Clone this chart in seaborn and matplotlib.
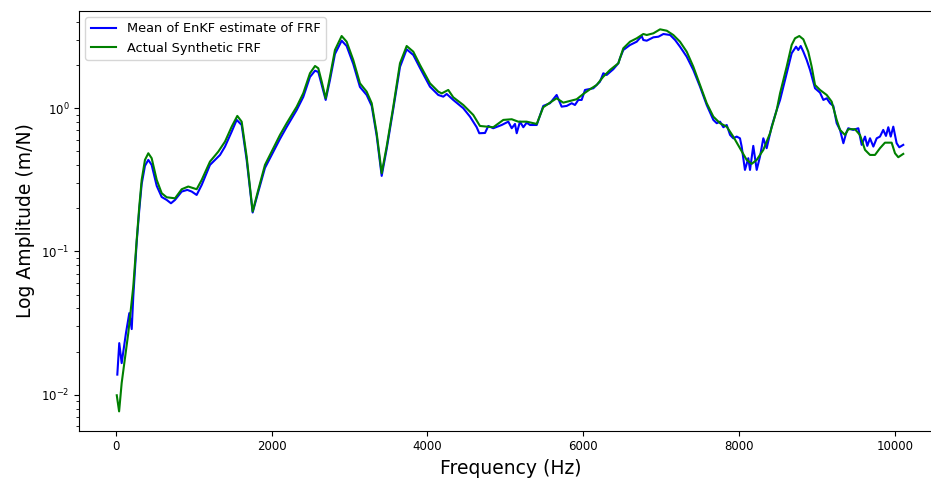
import matplotlib
matplotlib.use("Agg")
import matplotlib.pyplot as plt
import seaborn as sns
import numpy as np

# Mean of EnKF estimate of FRF
freq_est = [17, 42, 73, 128, 171, 202, 222, 266, 299, 330, 372, 415, 458, 523, 587, 651, 706, 758,
            844, 916, 972, 1036, 1101, 1207, 1336, 1400, 1486, 1550, 1614, 1678, 1755, 1827, 1913,
            2020, 2106, 2192, 2321, 2405, 2491, 2556, 2598, 2642, 2693, 2748, 2812, 2898, 2962, 3047,
            3133, 3219, 3284, 3348, 3412, 3476, 3561, 3647, 3733, 3818, 3904, 4032, 4139, 4203, 4247,
            4331, 4460, 4546, 4632, 4665, 4739, 4781, 4845, 4953, 5038, 5082, 5124, 5146, 5188, 5231,
            5274, 5317, 5403, 5487, 5573, 5659, 5723, 5788, 5852, 5894, 5937, 5980, 6023, 6130, 6215,
            6258, 6301, 6386, 6451, 6472, 6515, 6601, 6687, 6751, 6772, 6816, 6901, 6966, 7030, 7116,
            7180, 7243, 7329, 7414, 7500, 7586, 7671, 7715, 7757, 7800, 7843, 7886, 7927, 7971, 8013,
            8035, 8077, 8120, 8142, 8184, 8228, 8270, 8313, 8356, 8420, 8485, 8528, 8613, 8677, 8733,
            8762, 8793, 8827, 8870, 8913, 8977, 9041, 9084, 9127, 9170, 9212, 9255, 9298, 9341, 9376,
            9404, 9468, 9533, 9576, 9619, 9648, 9683, 9726, 9769, 9811, 9853, 9888, 9918, 9949, 9982,
            10025, 10059, 10110]
amp_est = [0.0138, 0.0229, 0.0166, 0.0269, 0.0371, 0.0287, 0.0484, 0.1167, 0.195, 0.296, 0.396,
           0.436, 0.402, 0.287, 0.240, 0.229, 0.217, 0.229, 0.262, 0.269, 0.262, 0.248, 0.2916,
           0.402, 0.472, 0.540, 0.687, 0.829, 0.764, 0.436, 0.187, 0.2606, 0.383, 0.496, 0.611,
           0.740, 0.973, 1.199, 1.653, 1.829, 1.792, 1.454, 1.143, 1.576, 2.393, 2.963, 2.721,
           2.038, 1.408, 1.238, 1.038, 0.641, 0.337, 0.520, 0.989, 1.942, 2.58, 2.355, 1.911,
           1.415, 1.238, 1.205, 1.258, 1.143, 1.0, 0.874, 0.737, 0.669, 0.672, 0.752, 0.725,
           0.764, 0.806, 0.725, 0.777, 0.669, 0.806, 0.737, 0.793, 0.764, 0.764, 1.038, 1.084,
           1.238, 1.026, 1.038, 1.084, 1.054, 1.143, 1.143, 1.342, 1.379, 1.533, 1.755, 1.708,
           1.872, 2.061, 2.234, 2.552, 2.765, 2.916, 3.195, 2.996, 2.963, 3.129, 3.16, 3.30,
           3.248, 2.996, 2.691, 2.292, 1.851, 1.415, 1.054, 0.829, 0.786, 0.806, 0.737, 0.764,
           0.651, 0.617, 0.634, 0.617, 0.540, 0.371, 0.448, 0.371, 0.546, 0.371, 0.459, 0.617,
           0.526, 0.744, 0.973, 1.143, 1.755, 2.42, 2.691, 2.552, 2.721, 2.483, 2.173, 1.851,
           1.379, 1.285, 1.143, 1.174, 1.084, 1.038, 0.786, 0.706, 0.57, 0.669, 0.725, 0.706,
           0.725, 0.555, 0.634, 0.546, 0.617, 0.540, 0.617, 0.634, 0.706, 0.641, 0.737, 0.634,
           0.744, 0.57, 0.534, 0.555]

# Actual Synthetic FRF
freq_act = [10, 40, 73, 158, 222, 266, 299, 330, 372, 415, 458, 523, 587, 651, 758, 844, 928, 1036,
            1101, 1207, 1314, 1400, 1486, 1558, 1614, 1678, 1755, 1827, 1913, 2020, 2106, 2192, 2321,
            2405, 2491, 2556, 2598, 2642, 2693, 2748, 2812, 2898, 2962, 3047, 3133, 3219, 3284, 3348,
            3412, 3476, 3561, 3647, 3733, 3818, 3904, 4032, 4139, 4183, 4267, 4331, 4460, 4588, 4674,
            4760, 4845, 4974, 5082, 5166, 5274, 5403, 5487, 5573, 5659, 5744, 5830, 5916, 6001, 6087,
            6173, 6258, 6344, 6451, 6515, 6601, 6687, 6772, 6816, 6901, 6987, 7073, 7157, 7243, 7329,
            7414, 7500, 7586, 7671, 7757, 7843, 7927, 8013, 8099, 8164, 8228, 8313, 8399, 8485, 8528,
            8613, 8677, 8720, 8775, 8827, 8890, 8934, 8977, 9041, 9127, 9191, 9255, 9298, 9362, 9404,
            9490, 9554, 9619, 9683, 9747, 9811, 9875, 9961, 10004, 10046, 10110]
amp_act = [0.0099, 0.00764, 0.01205, 0.0269, 0.0569, 0.1205, 0.2057, 0.316, 0.4357, 0.485, 0.448,
           0.316, 0.255, 0.239, 0.235, 0.272, 0.284, 0.272, 0.316, 0.424, 0.498, 0.585, 0.744,
           0.884, 0.806, 0.459, 0.19, 0.269, 0.402, 0.526, 0.651, 0.786, 1.026, 1.273, 1.755,
           1.973, 1.902, 1.533, 1.174, 1.662, 2.552, 3.195, 2.916, 2.173, 1.494, 1.306, 1.084,
           0.669, 0.352, 0.540, 1.026, 2.061, 2.721, 2.483, 2.005, 1.494, 1.306, 1.27, 1.342,
           1.193, 1.054, 0.898, 0.752, 0.744, 0.737, 0.829, 0.838, 0.806, 0.806, 0.777, 1.016,
           1.094, 1.174, 1.094, 1.124, 1.156, 1.258, 1.357, 1.454, 1.662, 1.85, 2.061, 2.623,
           2.916, 3.079, 3.3, 3.248, 3.337, 3.558, 3.479, 3.248, 2.916, 2.483, 1.951, 1.454,
           1.084, 0.874, 0.786, 0.744, 0.634, 0.526, 0.436, 0.409, 0.436, 0.512, 0.669, 0.973,
           1.273, 1.951, 2.765, 3.079, 3.195, 3.030, 2.483, 1.951, 1.454, 1.342, 1.238, 1.112,
           0.829, 0.706, 0.651, 0.714, 0.714, 0.651, 0.512, 0.472, 0.472, 0.526, 0.575, 0.575,
           0.485, 0.455, 0.48]

W, H = 931, 479
fig = plt.figure(figsize=(W / 100, H / 100), dpi=100)
ax = fig.add_axes([79 / W, 1 - 430.7 / H, 862.8 / W, 420.0 / H])

sns.lineplot(x=freq_est, y=amp_est, ax=ax, color="blue", linewidth=1.5,
             label="Mean of EnKF estimate of FRF")
sns.lineplot(x=freq_act, y=amp_act, ax=ax, color="green", linewidth=1.5,
             label="Actual Synthetic FRF")

ax.set_yscale("log")
ax.set_xlim(-475, 10605)
ax.set_ylim(0.0056, 4.8)
ax.set_xticks([0, 2000, 4000, 6000, 8000, 10000])
ax.tick_params(axis="both", which="major", labelsize=8.5)
ax.set_xlabel("Frequency (Hz)", fontsize=13.5)
ax.set_ylabel("Log Amplitude (m/N)", fontsize=13.5)
ax.legend(loc="upper left", fontsize=9.3)

fig.savefig("out.png", dpi=100)
